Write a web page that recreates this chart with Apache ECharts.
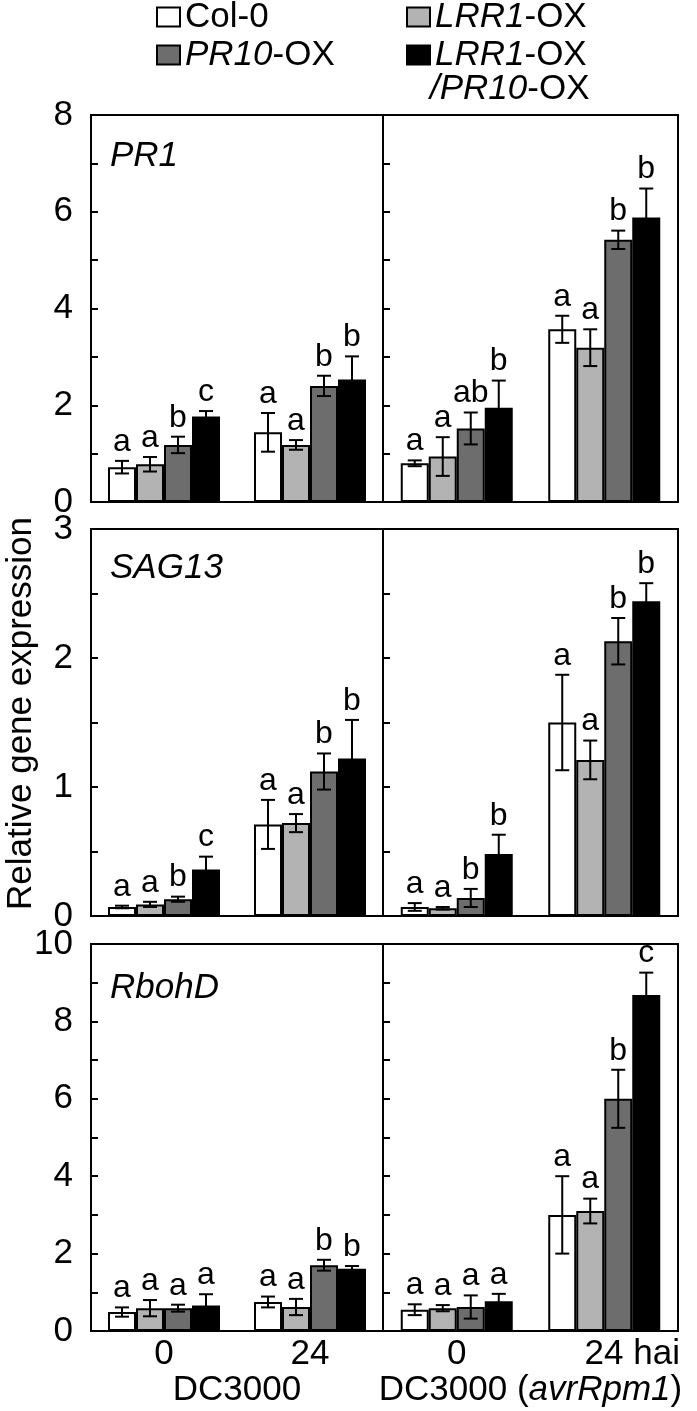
<!DOCTYPE html>
<html><head><meta charset="utf-8">
<script src="https://cdn.jsdelivr.net/npm/echarts@6/dist/echarts.min.js"></script>
<style>html,body{margin:0;padding:0;background:#fff}#chart{width:697px;height:1411px}</style>
</head><body><div id="chart"></div>
<script>
// ---- data ----
const genotypes = ['Col-0', 'LRR1-OX', 'PR10-OX', 'LRR1-OX/PR10-OX'];
const timepoints = ['0', '24'];
const genes = ['PR1', 'SAG13', 'RbohD'];
const infections = ['DC3000', 'DC3000 (avrRpm1)'];
// rows = genotypes (Col-0, LRR1-OX, PR10-OX, LRR1-OX/PR10-OX); columns = 0, 24 hai
const pr1Dc3000Mean = [[0.72, 1.44], [0.78, 1.18], [1.18, 2.40], [1.77, 2.53]];
const pr1Dc3000Err = [[0.13, 0.40], [0.15, 0.10], [0.17, 0.21], [0.11, 0.48]];
const pr1Dc3000Letters = [['a', 'a'], ['a', 'a'], ['b', 'b'], ['c', 'b']];
const pr1AvrMean = [[0.80, 3.57], [0.94, 3.19], [1.52, 5.42], [1.95, 5.88]];
const pr1AvrErr = [[0.06, 0.28], [0.40, 0.38], [0.33, 0.19], [0.56, 0.60]];
const pr1AvrLetters = [['a', 'a'], ['a', 'a'], ['ab', 'b'], ['b', 'b']];
const sag13Dc3000Mean = [[0.07, 0.71], [0.09, 0.72], [0.13, 1.12], [0.36, 1.22]];
const sag13Dc3000Err = [[0.01, 0.19], [0.02, 0.07], [0.02, 0.14], [0.10, 0.30]];
const sag13Dc3000Letters = [['a', 'a'], ['a', 'a'], ['b', 'b'], ['c', 'b']];
const sag13AvrMean = [[0.07, 1.50], [0.06, 1.21], [0.14, 2.13], [0.48, 2.44]];
const sag13AvrErr = [[0.03, 0.37], [0.01, 0.15], [0.07, 0.18], [0.15, 0.14]];
const sag13AvrLetters = [['a', 'a'], ['a', 'a'], ['b', 'b'], ['b', 'b']];
const rbohdDc3000Mean = [[0.49, 0.75], [0.59, 0.62], [0.59, 1.70], [0.66, 1.61]];
const rbohdDc3000Err = [[0.12, 0.14], [0.21, 0.21], [0.09, 0.14], [0.29, 0.07]];
const rbohdDc3000Letters = [['a', 'a'], ['a', 'a'], ['a', 'b'], ['a', 'b']];
const rbohdAvrMean = [[0.55, 3.00], [0.59, 3.10], [0.62, 6.00], [0.77, 8.68]];
const rbohdAvrErr = [[0.14, 1.00], [0.08, 0.32], [0.30, 0.75], [0.19, 0.58]];
const rbohdAvrLetters = [['a', 'a'], ['a', 'a'], ['a', 'b'], ['a', 'c']];
const yMaxes = [8, 3, 10];
const yTickSteps = [1, 0.5, 1];
const yLabelSteps = [2, 1, 2];

// ---- layout / style ----
const FONT = '"Liberation Sans", Arial, sans-serif';
const colors = ['#ffffff', '#b3b3b3', '#6d6d6d', '#000000'];
const BAR_W = 28;
const rowTops = [115, 529, 944];
const ROW_H = 387;
const colLeft = [91, 383];
const colW = [292, 295];
const titleTops = [138, 550, 970];

const panels = [
  [[pr1Dc3000Mean, pr1Dc3000Err, pr1Dc3000Letters], [pr1AvrMean, pr1AvrErr, pr1AvrLetters]],
  [[sag13Dc3000Mean, sag13Dc3000Err, sag13Dc3000Letters], [sag13AvrMean, sag13AvrErr, sag13AvrLetters]],
  [[rbohdDc3000Mean, rbohdDc3000Err, rbohdDc3000Letters], [rbohdAvrMean, rbohdAvrErr, rbohdAvrLetters]]
];

const grid = [], xAxis = [], yAxis = [], series = [], title = [];
const lineBlack = { color: '#000', width: 2 };

function errRenderer(g, letters) {
  return function (params, api) {
    const k = api.value(0), m = api.value(1), e = api.value(2);
    const top = api.coord([k, m + e]);
    const bot = api.coord([k, Math.max(m - e, 0)]);
    const x = top[0] + (g - 1.5) * BAR_W;
    const cap = 7;
    const st = { stroke: '#000', lineWidth: 2 };
    return {
      type: 'group',
      children: [
        { type: 'line', shape: { x1: x, y1: top[1], x2: x, y2: bot[1] }, style: st },
        { type: 'line', shape: { x1: x - cap, y1: top[1], x2: x + cap, y2: top[1] }, style: st },
        { type: 'line', shape: { x1: x - cap, y1: bot[1], x2: x + cap, y2: bot[1] }, style: st },
        { type: 'text', x: x, y: top[1] - 3, style: { text: letters[g][params.dataIndex], fontSize: 32, fontFamily: FONT, fill: '#000', align: 'center', verticalAlign: 'bottom' } }
      ]
    };
  };
}

for (let r = 0; r < 3; r++) {
  title.push({
    text: genes[r], left: 110, top: titleTops[r], padding: 0,
    textStyle: { fontStyle: 'italic', fontWeight: 'normal', fontSize: 35, lineHeight: 36, color: '#000', fontFamily: FONT }
  });
  for (let c = 0; c < 2; c++) {
    const idx = r * 2 + c;
    grid.push({ left: colLeft[c], top: rowTops[r], width: colW[c], height: ROW_H, show: true, borderColor: '#000', borderWidth: 2, outerBoundsMode: 'none' });
    const bottomRow = r === 2;
    xAxis.push({
      gridIndex: idx, type: 'category', data: timepoints,
      axisLine: { show: true, lineStyle: lineBlack }, axisTick: { show: false },
      axisLabel: {
        show: bottomRow, interval: 0, hideOverlap: false, fontSize: 35, color: '#000', fontFamily: FONT, margin: 6,
        formatter: (c === 1) ? (v => v === '24' ? '{s|}{n|24 hai}' : '{n|' + v + '}') : (v => '{n|' + v + '}'),
        rich: { s: { width: 56 }, n: { fontSize: 35, fontFamily: FONT, color: '#000' } }
      },
      name: bottomRow ? (c === 0 ? infections[0] : '{n|DC3000 (}{i|avrRpm1}{n|)}') : '',
      nameLocation: 'middle', nameGap: 42,
      nameTextStyle: {
        fontSize: 35, color: '#000', fontFamily: FONT,
        rich: { n: { fontSize: 35, fontFamily: FONT, color: '#000' }, i: { fontSize: 35, fontFamily: FONT, color: '#000', fontStyle: 'italic' } }
      }
    });
    const step = yLabelSteps[r];
    const ya = {
      gridIndex: idx, type: 'value', min: 0, max: yMaxes[r], interval: yTickSteps[r],
      axisLine: { show: true, lineStyle: lineBlack },
      axisTick: { show: true, inside: true, length: 7, lineStyle: lineBlack },
      splitLine: { show: false },
      axisLabel: {
        show: c === 0, fontSize: 35, color: '#000', fontFamily: FONT, margin: 18,
        formatter: v => (Math.abs(v / step - Math.round(v / step)) < 1e-6 ? String(v) : '')
      }
    };
    if (r === 1 && c === 0) {
      ya.name = 'Relative gene expression';
      ya.nameLocation = 'middle';
      ya.nameGap = 52;
      ya.nameRotate = 90;
      ya.nameTextStyle = { fontSize: 35, color: '#000', fontFamily: FONT, padding: [0, 0, 0, 18] };
    }
    yAxis.push(ya);
    const [mean, err, letters] = panels[r][c];
    for (let g = 0; g < 4; g++) {
      series.push({
        type: 'bar', name: genotypes[g], xAxisIndex: idx, yAxisIndex: idx,
        data: mean[g], barWidth: BAR_W, barGap: '0%',
        itemStyle: { color: colors[g], borderColor: '#000', borderWidth: 2 },
        z: 2
      });
      series.push({
        type: 'custom', name: genotypes[g] + ' error', xAxisIndex: idx, yAxisIndex: idx,
        data: timepoints.map((t, k) => [k, mean[g][k], err[g][k]]),
        renderItem: errRenderer(g, letters), z: 3, silent: true
      });
    }
  }
}

const legendText = {
  fontSize: 35, lineHeight: 36, color: '#000', fontFamily: FONT,
  rich: { n: { fontSize: 35, fontFamily: FONT, color: '#000' }, i: { fontSize: 35, fontFamily: FONT, color: '#000', fontStyle: 'italic' } }
};
const legendFmt = name => {
  if (name === 'Col-0') return '{n|Col-0}';
  if (name === 'PR10-OX') return '{i|PR10}{n|-OX}';
  return '{i|LRR1}{n|-OX}';
};
const legendBase = {
  orient: 'vertical', top: -1, padding: 0, itemGap: 2, itemWidth: 23, itemHeight: 19,
  icon: 'rect', selectedMode: false, formatter: legendFmt, textStyle: legendText,
  itemStyle: { borderColor: '#000', borderWidth: 2 }
};

const option = {
  animation: false,
  backgroundColor: '#fff',
  title: title,
  legend: [
    Object.assign({}, legendBase, { left: 156, data: [genotypes[0], genotypes[2]] }),
    Object.assign({}, legendBase, { left: 406, data: [genotypes[1], genotypes[3]] })
  ],
  graphic: [{
    type: 'text', left: 430, top: 72,
    style: { text: '{i|/PR10}{n|-OX}', rich: legendText.rich, fill: '#000' }
  }],
  grid: grid, xAxis: xAxis, yAxis: yAxis, series: series
};
const chart = echarts.init(document.getElementById('chart'), null, { renderer: 'canvas' });
chart.setOption(option);
</script></body></html>
